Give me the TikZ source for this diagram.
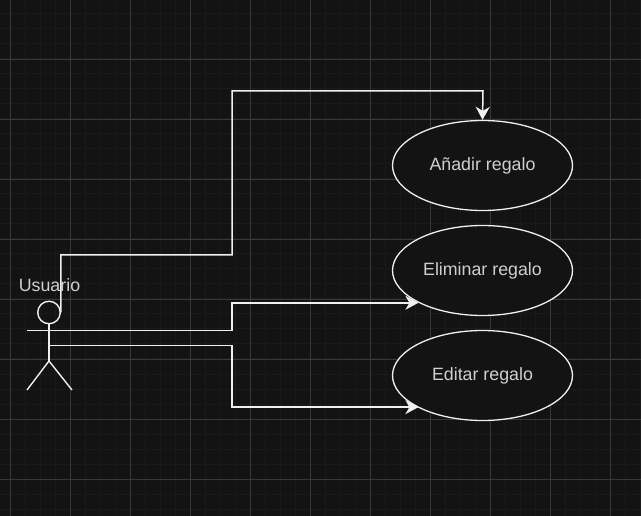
\documentclass[tikz,border=0pt]{standalone}
\usepackage{fontspec}
\setmainfont{Liberation Sans}
\usetikzlibrary{arrows.meta,shapes.geometric}
\definecolor{bgc}{HTML}{131313}
\definecolor{minorc}{HTML}{1A1A1A}
\definecolor{majorc}{HTML}{383838}
\definecolor{linec}{HTML}{F0F0F0}
\definecolor{textc}{HTML}{CFCFCF}
\tikzset{
  labeltext/.style={text=textc,font=\fontsize{17.8}{21}\selectfont},
  usecase/.style={ellipse,draw=linec,fill=bgc,line width=1.3pt,minimum width=180pt,minimum height=90pt,inner sep=0pt,labeltext},
  conn/.style={draw=linec,line width=1.5pt,-{Stealth[length=13pt,width=14pt,inset=4pt]}},
  actorline/.style={draw=linec,line width=1.4pt},
}
\begin{document}
\begin{tikzpicture}[x=1pt,y=-1pt]
\useasboundingbox (0,0) rectangle (641,516);
\fill[bgc] (0,0) rectangle (641,516);
\foreach \i in {-5,...,43}{
  \draw[minorc,line width=1pt] ({10+15*\i},0) -- ({10+15*\i},516);
  \draw[minorc,line width=1pt] (0,{14+15*\i}) -- (641,{14+15*\i});
}
\foreach \i in {0,...,10}{
  \draw[majorc,line width=0.8pt] ({10+60*\i},0) -- ({10+60*\i},516);
  \draw[majorc,line width=0.8pt] (0,{-1+60*\i}) -- (641,{-1+60*\i});
}
\node[usecase] (anadir) at (482.5,165.5) {\raisebox{-0.8pt}{Añadir regalo}};
\node[usecase] (eliminar) at (482.5,270.5) {\raisebox{-0.8pt}{Eliminar regalo}};
\node[usecase] (editar) at (482.5,375.5) {\raisebox{-0.8pt}{Editar regalo}};
% actor
\node[circle,draw=linec,line width=1.4pt,minimum size=22.5pt,inner sep=0pt] (head) at (49,312.5) {};
\coordinate (hip) at (49,361);
\coordinate (armL) at (27,330.5);
\coordinate (footL) at (27,390);
\coordinate (footR) at (72,390);
\coordinate (mid) at (49,345.5);
\draw[actorline] (head.south) -- (hip);
\draw[actorline] (footL) -- (hip) -- (footR);
\node[labeltext] (ulabel) at (49.5,285.5) {Usuario};
% connectors
\draw[conn] (head.east) |- (232,255) |- (483,91) -- (anadir.north);
\draw[conn] (armL) -- (232,330.5) |- (eliminar.south west);
\draw[conn] (mid) -- (232,345.5) |- ([yshift=0.6pt]editar.south west);
\end{tikzpicture}
\end{document}
